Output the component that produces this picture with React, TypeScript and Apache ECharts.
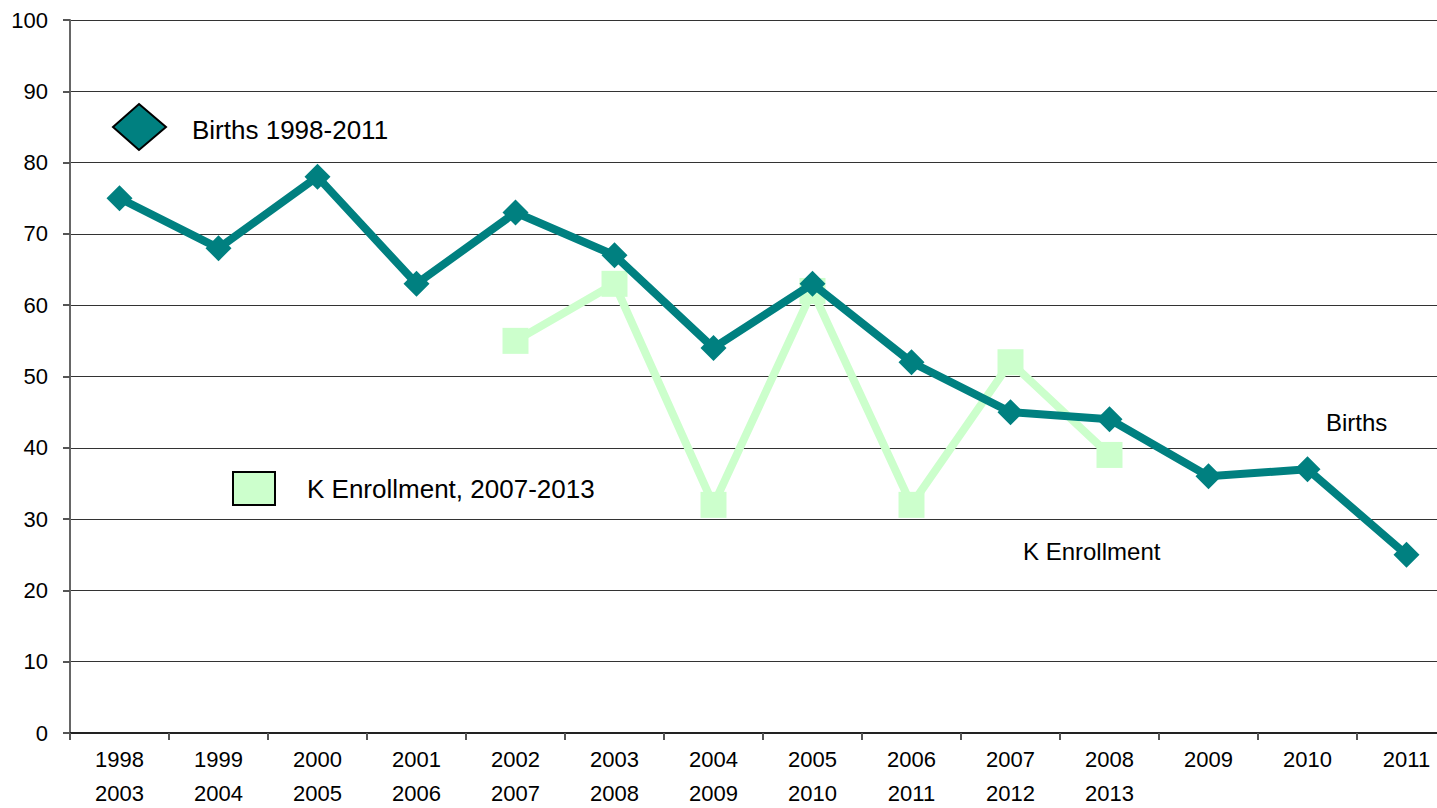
import React, { useEffect, useRef } from "react";
import * as echarts from "echarts";

const categories = [
  "1998\n2003", "1999\n2004", "2000\n2005", "2001\n2006", "2002\n2007",
  "2003\n2008", "2004\n2009", "2005\n2010", "2006\n2011", "2007\n2012",
  "2008\n2013", "2009", "2010", "2011",
];
const births = [75, 68, 78, 63, 73, 67, 54, 63, 52, 45, 44, 36, 37, 25];
const kEnrollment = [null, null, null, null, 55, 63, 32, 62, 32, 52, 39, null, null, null];
const yTicks = { min: 0, max: 100, interval: 10 };

const FONT = "Liberation Sans, Arial, sans-serif";

export default function App() {
  const ref = useRef<HTMLDivElement>(null);
  useEffect(() => {
    if (!ref.current) return;
    const chart = echarts.init(ref.current, undefined, { renderer: "svg" });
    chart.setOption({
      animation: false,
      backgroundColor: "#ffffff",
      grid: { left: 70, right: 4, top: 20, bottom: 75, containLabel: false, outerBoundsMode: "none" },
      xAxis: {
        type: "category",
        data: categories,
        boundaryGap: true,
        axisLine: { lineStyle: { color: "#222", width: 2 } },
        axisTick: { show: true, interval: 0, length: 7, lineStyle: { color: "#555", width: 2 } },
        axisLabel: {
          interval: 0,
          color: "#000",
          fontFamily: FONT,
          fontSize: 22,
          lineHeight: 34,
          margin: 9,
        },
        splitLine: { show: false },
      },
      yAxis: {
        type: "value",
        min: yTicks.min,
        max: yTicks.max,
        interval: yTicks.interval,
        axisLine: { show: true, lineStyle: { color: "#666", width: 2 } },
        axisTick: { show: true, length: 7, lineStyle: { color: "#555", width: 2 } },
        axisLabel: { color: "#000", fontFamily: FONT, fontSize: 22, margin: 22 },
        splitLine: { show: true, lineStyle: { color: "#333", width: 1 } },
      },
      series: [
        {
          name: "K Enrollment, 2007-2013",
          type: "line",
          data: kEnrollment,
          connectNulls: false,
          symbol: "rect",
          symbolSize: 26,
          z: 2,
          lineStyle: { color: "#ccffcc", width: 8 },
          itemStyle: { color: "#ccffcc" },
        },
        {
          name: "Births 1998-2011",
          type: "line",
          data: births,
          symbol: "diamond",
          symbolSize: 26,
          z: 3,
          lineStyle: { color: "#008080", width: 8 },
          itemStyle: { color: "#008080" },
        },
      ],
      graphic: [
        {
          type: "polygon",
          shape: { points: [[139, 104], [166, 127], [139, 150], [113, 127]] },
          style: { fill: "#008080", stroke: "#000", lineWidth: 2 },
        },
        {
          type: "text",
          x: 192, y: 130,
          style: { text: "Births 1998-2011", fill: "#000", font: "26px " + FONT, verticalAlign: "middle" },
        },
        {
          type: "rect",
          shape: { x: 233, y: 472, width: 42, height: 33 },
          style: { fill: "#ccffcc", stroke: "#000", lineWidth: 2 },
        },
        {
          type: "text",
          x: 307, y: 489,
          style: { text: "K Enrollment, 2007-2013", fill: "#000", font: "26px " + FONT, verticalAlign: "middle" },
        },
        {
          type: "text",
          x: 1326, y: 422,
          style: { text: "Births", fill: "#000", font: "24px " + FONT, verticalAlign: "middle" },
        },
        {
          type: "text",
          x: 1023, y: 551,
          style: { text: "K Enrollment", fill: "#000", font: "24px " + FONT, verticalAlign: "middle" },
        },
      ],
    });
    return () => chart.dispose();
  }, []);
  return (
    <div style={{ position: "fixed", left: 0, top: 0, width: 1437, height: 808, overflow: "hidden", background: "#fff" }}>
      <div ref={ref} style={{ width: 1460, height: 808 }} />
    </div>
  );
}
